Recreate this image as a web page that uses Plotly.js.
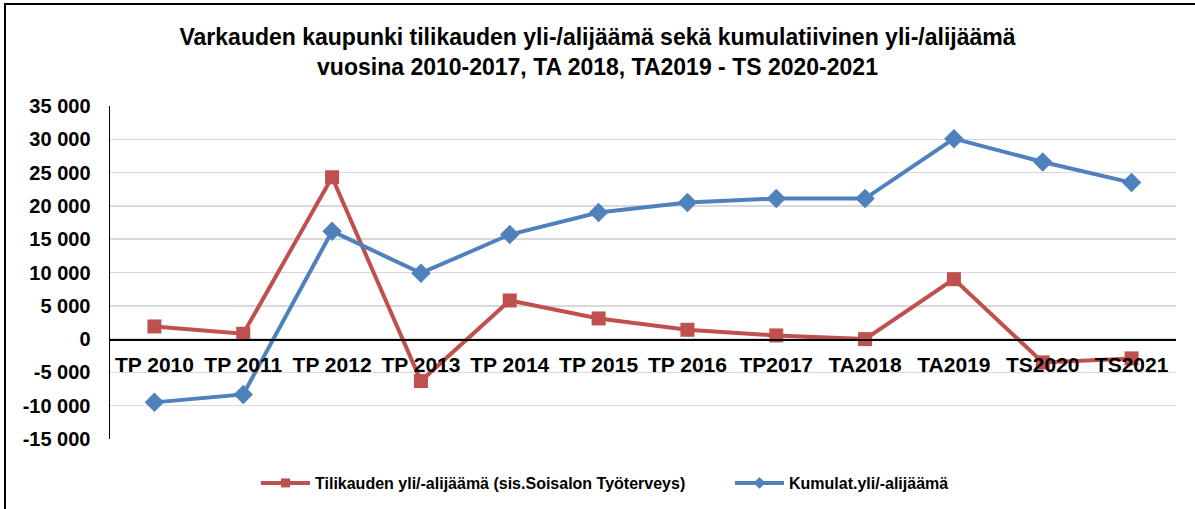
<!DOCTYPE html>
<html>
<head>
<meta charset="utf-8">
<script src="https://cdn.plot.ly/plotly-3.0.1.min.js"></script>
<style>
  html, body { margin: 0; padding: 0; background: #fff; }
  #chart { position: absolute; left: 0; top: 0; width: 1195px; height: 509px; }
  #frame { position: absolute; left: 4px; top: 3px; width: 1200px; height: 520px;
           border-top: 2px solid #000; border-left: 2px solid #000; pointer-events: none; }
</style>
</head>
<body>
<div id="chart"></div>
<div id="frame"></div>
<script>
const categories = ["TP 2010", "TP 2011", "TP 2012", "TP 2013", "TP 2014", "TP 2015",
                    "TP 2016", "TP2017", "TA2018", "TA2019", "TS2020", "TS2021"];
const tilikausi = [1900, 800, 24300, -6300, 5800, 3100, 1400, 550, 0, 9000, -3500, -2900];
const kumulat = [-9500, -8300, 16200, 9900, 15700, 19000, 20500, 21100, 21100, 30100, 26600, 23500];
const yTickVals = [35000, 30000, 25000, 20000, 15000, 10000, 5000, 0, -5000, -10000, -15000];
const yTickText = ["35 000", "30 000", "25 000", "20 000", "15 000", "10 000", "5 000", "0",
                   "-5 000", "-10 000", "-15 000"];
const seriesNames = ["Tilikauden yli/-alijäämä (sis.Soisalon Työterveys)", "Kumulat.yli/-alijäämä"];
const titleText = "Varkauden kaupunki tilikauden yli-/alijäämä sekä kumulatiivinen yli-/alijäämä<br>vuosina 2010-2017, TA 2018, TA2019 - TS 2020-2021";

const FONT = "Liberation Sans, Arial, sans-serif";
const RED = "#C0504D", BLUE = "#4F81BD";

const traces = [
  {
    x: categories, y: tilikausi, name: seriesNames[0], type: "scatter", mode: "lines+markers",
    line: { color: RED, width: 4 },
    marker: { symbol: "square", size: 14, color: RED },
    showlegend: false
  },
  {
    x: categories, y: kumulat, name: seriesNames[1], type: "scatter", mode: "lines+markers",
    line: { color: BLUE, width: 4 },
    marker: { symbol: "diamond", size: 15, color: BLUE },
    showlegend: false
  },
  // legend-only entries with the small legend markers
  {
    x: [null], y: [null], name: seriesNames[0], type: "scatter", mode: "lines+markers",
    line: { color: RED, width: 4 }, marker: { symbol: "square", size: 9, color: RED }
  },
  {
    x: [null], y: [null], name: seriesNames[1], type: "scatter", mode: "lines+markers",
    line: { color: BLUE, width: 4 }, marker: { symbol: "diamond", size: 9, color: BLUE }
  }
];

const yMin = -15000, yMax = 35000;

const layout = {
  width: 1195, height: 509,
  margin: { l: 110, r: 19, t: 106, b: 70 },
  paper_bgcolor: "#fff", plot_bgcolor: "#fff",
  font: { family: FONT, color: "#000" },
  title: {
    text: "<b>" + titleText + "</b>",
    font: { family: FONT, size: 23, color: "#000" },
    x: 0.5, xref: "container", xanchor: "center",
    y: 1 - 45 / 509, yref: "container", yanchor: "top"
  },
  xaxis: {
    type: "category",
    range: [-0.5, categories.length - 0.5],
    anchor: "free",
    position: (0 - yMin) / (yMax - yMin),
    showline: true, linecolor: "#000", linewidth: 1.5,
    showgrid: false, zeroline: false, ticks: "",
    tickfont: { family: FONT, size: 21, color: "#000", weight: "bold" },
    ticklabelstandoff: 6
  },
  yaxis: {
    range: [yMin, yMax],
    tickvals: yTickVals, ticktext: yTickText,
    showline: true, linecolor: "#000", linewidth: 1.5,
    showgrid: true, gridcolor: "#D9D9D9", gridwidth: 1.5,
    zeroline: false, ticks: "",
    tickfont: { family: FONT, size: 20, color: "#000", weight: "bold" },
    ticklabelstandoff: 14
  },
  showlegend: true,
  legend: {
    orientation: "h",
    x: 256 / 1195, xref: "container", xanchor: "left",
    y: 1 - 483 / 509, yref: "container", yanchor: "middle",
    font: { family: FONT, size: 16, color: "#000", weight: "bold" },
    itemwidth: 49,
    entrywidth: 410,
    bgcolor: "rgba(0,0,0,0)"
  }
};

Plotly.newPlot("chart", traces, layout, { displayModeBar: false, staticPlot: true });
</script>
</body>
</html>
